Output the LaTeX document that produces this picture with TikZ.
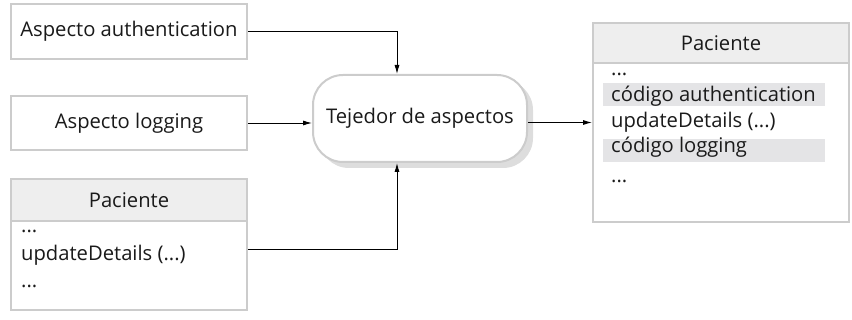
\documentclass[tikz,border=0pt]{standalone}
\usepackage{fontspec}
\setmainfont{Open Sans}
\usetikzlibrary{arrows.meta}
\definecolor{bord}{HTML}{CCCCCC}
\definecolor{headfill}{HTML}{EEEEEE}
\definecolor{hl}{HTML}{E4E4E6}
\definecolor{shad}{HTML}{DDDDDD}
\definecolor{txt}{HTML}{1A1A1A}
\begin{document}
\begin{tikzpicture}[x=1pt,y=-1pt,
  box/.style={draw=bord, line width=2pt, fill=white, inner sep=0pt, text=txt},
  head/.style={draw=bord, line width=2pt, fill=headfill, inner sep=0pt, text=txt},
  lbl/.style={inner sep=0pt, anchor=base west, text=txt},
  band/.style={fill=hl, inner sep=0pt},
  conn/.style={line width=0.9pt, -{Latex[length=9pt,width=5pt]}},
  font=\fontsize{20.2}{24}\selectfont]
\useasboundingbox (0,0) rectangle (852,320);
% Box 1 and 2
\node[box, minimum width=236pt, minimum height=55pt] (auth) at (129,31.5) {Aspecto authentication};
\node[box, minimum width=236pt, minimum height=54pt] (logg) at (129,123) {Aspecto logging};
% Left Paciente
\node[box, minimum width=236pt, minimum height=131pt] (pac) at (129,244.5) {};
\node[head, minimum width=236pt, minimum height=42pt] (pachead) at (129,200) {Paciente};
\node[lbl] (p1) at (21,233) {...};
\node[lbl] (p2) at (21,261) {updateDetails (...)};
\node[lbl] (p3) at (21,288) {...};
% Weaver
\fill[shad, rounded corners=30pt] (319,80) rectangle (533,168);
\node[box, rounded corners=30pt, minimum width=214pt, minimum height=87pt] (weav) at (420,118.5) {Tejedor de aspectos};
% Right Paciente
\node[box, minimum width=256pt, minimum height=199pt] (rpac) at (721,122.5) {};
\node[head, minimum width=256pt, minimum height=40pt] (rhead) at (721,43) {Paciente};
\node[band, minimum width=222pt, minimum height=23pt] (b1) at (714,94.5) {};
\node[band, minimum width=222pt, minimum height=23pt] (b2) at (714,150.5) {};
\node[lbl] (r1) at (611,76) {...};
\node[lbl] (r2) at (611,102) {código authentication};
\node[lbl] (r3) at (611,128) {updateDetails (...)};
\node[lbl] (r4) at (611,153) {código logging};
\node[lbl] (r5) at (611,183) {...};
% Connectors
\draw[conn] (auth.east) -| ([xshift=-23pt]weav.north);
\draw[conn] (logg.east) -- (logg.east -| weav.west);
\draw[conn] (pac.east |- 0,249) -| ([xshift=-23pt]weav.south);
\draw[conn] (weav.east |- rpac.west) -- (rpac.west);
\end{tikzpicture}
\end{document}
